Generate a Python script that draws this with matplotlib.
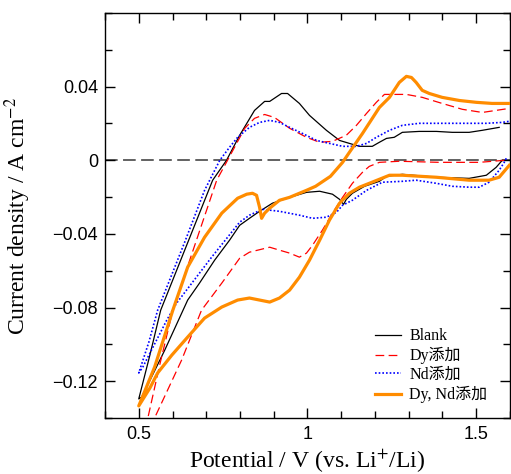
import matplotlib
matplotlib.use('Agg')
import matplotlib.pyplot as plt
from matplotlib import rcParams
from matplotlib.ticker import MultipleLocator, FuncFormatter

rcParams['font.family'] = ['Liberation Serif', 'Noto Sans CJK JP']
rcParams['mathtext.fontset'] = 'stix'

# cyclic voltammograms: each path = cathodic scan (high -> 0.5 V) then anodic return
blank_E = [1.577, 1.559, 1.530, 1.479, 1.382, 1.281, 1.234, 1.213, 1.169, 1.133, 1.115, 1.107,
           1.095, 1.074, 1.036, 0.997, 0.947, 0.896, 0.858, 0.828, 0.799, 0.769, 0.725, 0.680,
           0.645, 0.577, 0.509, 0.500,
           0.533, 0.565, 0.642, 0.719, 0.760, 0.799, 0.843, 0.873, 0.888, 0.923, 0.941, 0.976,
           1.006, 1.056, 1.095, 1.124, 1.154, 1.192, 1.213, 1.234, 1.257, 1.281, 1.331, 1.382,
           1.429, 1.479, 1.518, 1.568]
blank_i = [0.0, -0.0038, -0.0081, -0.0098, -0.0092, -0.0076, -0.0087, -0.0114, -0.0141, -0.0179,
           -0.0212, -0.0239, -0.0212, -0.0184, -0.0168, -0.0174, -0.0201, -0.0233, -0.0277,
           -0.0315, -0.0353, -0.0434, -0.0542, -0.0667, -0.0759, -0.1031, -0.1285, -0.1296,
           -0.1058, -0.0814, -0.0461, -0.0108, 0.0, 0.0136, 0.0271, 0.0320, 0.0320, 0.0363,
           0.0363, 0.0309, 0.0244, 0.0163, 0.0108, 0.0092, 0.0076, 0.0076, 0.0098, 0.0119,
           0.0125, 0.0152, 0.0157, 0.0157, 0.0152, 0.0152, 0.0163, 0.0179]

dy_E = [1.583, 1.509, 1.391, 1.272, 1.213, 1.183, 1.163, 1.133, 1.104, 1.074, 1.044, 1.015,
        0.997, 0.976, 0.947, 0.917, 0.888, 0.828, 0.799, 0.746, 0.686, 0.627, 0.547, 0.500,
        0.527, 0.562, 0.601, 0.666, 0.731, 0.763, 0.790, 0.814, 0.843, 0.873, 0.902, 0.947,
        0.997, 1.036, 1.074, 1.115, 1.145, 1.175, 1.204, 1.228, 1.293, 1.340, 1.399, 1.459,
        1.518, 1.598]
dy_i = [0.0, -0.0011, -0.0011, -0.0005, -0.0011, -0.0033, -0.0065, -0.0125, -0.0201, -0.0287,
        -0.0380, -0.0461, -0.0504, -0.0526, -0.0504, -0.0488, -0.0472, -0.0499, -0.0532,
        -0.0667, -0.0814, -0.1085, -0.1399, -0.1600,
        -0.1399, -0.1112, -0.0814, -0.0461, -0.0108, 0.0, 0.0092, 0.0174, 0.0228, 0.0249,
        0.0233, 0.0174, 0.0125, 0.0098, 0.0103, 0.0136, 0.0190, 0.0255, 0.0315, 0.0358,
        0.0358, 0.0342, 0.0309, 0.0277, 0.0260, 0.0282]

nd_E = [1.589, 1.583, 1.568, 1.538, 1.509, 1.479, 1.429, 1.382, 1.322, 1.281, 1.222, 1.175,
        1.133, 1.104, 1.086, 1.056, 1.015, 0.976, 0.917, 0.867, 0.828, 0.799, 0.716, 0.612,
        0.583, 0.512, 0.500,
        0.530, 0.556, 0.636, 0.695, 0.740, 0.769, 0.793, 0.828, 0.858, 0.888, 0.917, 0.947,
        0.985, 1.027, 1.065, 1.104, 1.145, 1.175, 1.204, 1.243, 1.281, 1.331, 1.429, 1.530,
        1.577, 1.598]
nd_i = [0.0011, -0.0011, -0.0054, -0.0119, -0.0146, -0.0146, -0.0141, -0.0125, -0.0108,
        -0.0114, -0.0119, -0.0163, -0.0217, -0.0244, -0.0282, -0.0309, -0.0315, -0.0298,
        -0.0277, -0.0266, -0.0298, -0.0336, -0.0526, -0.0776, -0.0868, -0.1123, -0.1155,
        -0.0987, -0.0814, -0.0445, -0.0163, 0.0, 0.0071, 0.0125, 0.0179, 0.0206, 0.0217,
        0.0206, 0.0179, 0.0146, 0.0108, 0.0092, 0.0076, 0.0076, 0.0092, 0.0125, 0.0163,
        0.0190, 0.0201, 0.0201, 0.0201, 0.0206, 0.0212]

dynd_E = [1.598, 1.568, 1.538, 1.479, 1.382, 1.281, 1.243, 1.213, 1.183, 1.154, 1.124, 1.095,
          1.065, 1.036, 1.006, 0.976, 0.947, 0.917, 0.888, 0.858, 0.828, 0.793, 0.746, 0.695,
          0.645, 0.598, 0.556, 0.533, 0.500,
          0.547, 0.601, 0.645, 0.695, 0.746, 0.793, 0.820, 0.837, 0.849, 0.858, 0.864, 0.873,
          0.888, 0.917, 0.947, 0.997, 1.024, 1.068, 1.104, 1.124, 1.163, 1.213, 1.243, 1.272,
          1.293, 1.308, 1.322, 1.340, 1.361, 1.399, 1.450, 1.500, 1.547, 1.598]
dynd_i = [-0.0027, -0.0092, -0.0108, -0.0108, -0.0092, -0.0081, -0.0081, -0.0103, -0.0125,
          -0.0146, -0.0179, -0.0233, -0.0325, -0.0434, -0.0542, -0.0635, -0.0705, -0.0748,
          -0.0770, -0.0759, -0.0748, -0.0759, -0.0797, -0.0857, -0.0960, -0.1058, -0.1155,
          -0.1237, -0.1334,
          -0.1123, -0.0814, -0.0580, -0.0418, -0.0287, -0.0206, -0.0184, -0.0179, -0.0190,
          -0.0255, -0.0315, -0.0287, -0.0260, -0.0217, -0.0201, -0.0163, -0.0141, -0.0087,
          -0.0011, 0.0043, 0.0146, 0.0287, 0.0342, 0.0423, 0.0456, 0.0450, 0.0423, 0.0380,
          0.0363, 0.0342, 0.0325, 0.0315, 0.0309, 0.0309]

labels = ['Blank', 'Dy添加', 'Nd添加', 'Dy, Nd添加']

fig = plt.figure(figsize=(5.11, 4.74), dpi=100)
ax = fig.add_axes([0.2055, 0.118, 0.7925, 0.8545])

ax.axhline(0, color='#555555', lw=1.3, dashes=(7, 3), zorder=1)
ax.plot(blank_E, blank_i, color='black', lw=0.9, label=labels[0], zorder=3)
ax.plot(dy_E, dy_i, color='#ff0000', lw=0.9, ls=(0, (7, 3.5)), label=labels[1], zorder=3)
ax.plot(nd_E, nd_i, color='#0000ff', lw=1.2, ls=(0, (1, 1.2)), label=labels[2], zorder=3)
ax.plot(dynd_E, dynd_i, color='#ff8c00', lw=2.3, label=labels[3], zorder=4)

fmt = FuncFormatter(lambda v, p: ('%g' % round(v, 4)).replace('-', '\u2212'))
ax.set_xlim(0.4, 1.6)
ax.set_ylim(-0.14, 0.08)
ax.set_xticks([0.5, 1.0, 1.5])
ax.xaxis.set_major_formatter(fmt)
ax.xaxis.set_minor_locator(MultipleLocator(0.1))
ax.set_yticks([-0.12, -0.08, -0.04, 0, 0.04])
ax.yaxis.set_major_formatter(fmt)
ax.yaxis.set_minor_locator(MultipleLocator(0.02))
ax.tick_params(which='both', direction='in', top=True, right=True, width=1)
ax.tick_params(which='major', length=7, labelsize=13, pad=5)
ax.tick_params(axis='x', which='major', pad=6)
ax.tick_params(which='minor', length=5)
for lab in ax.get_xticklabels() + ax.get_yticklabels():
    lab.set_family('Liberation Sans')
for s in ax.spines.values():
    s.set_linewidth(1)

ax.set_xlabel('Potential / V (vs. Li$^{+}$/Li)', fontsize=17, labelpad=3)
ax.set_ylabel('Current density / A cm$^{-2}$', fontsize=17, labelpad=14)

ax.legend(loc='upper left', bbox_to_anchor=(0.667, 0.222), frameon=False, fontsize=11.5,
          handlelength=1.6, handletextpad=0.55, labelspacing=0.18, borderpad=0, borderaxespad=0)

fig.savefig('out.png', dpi=100)
